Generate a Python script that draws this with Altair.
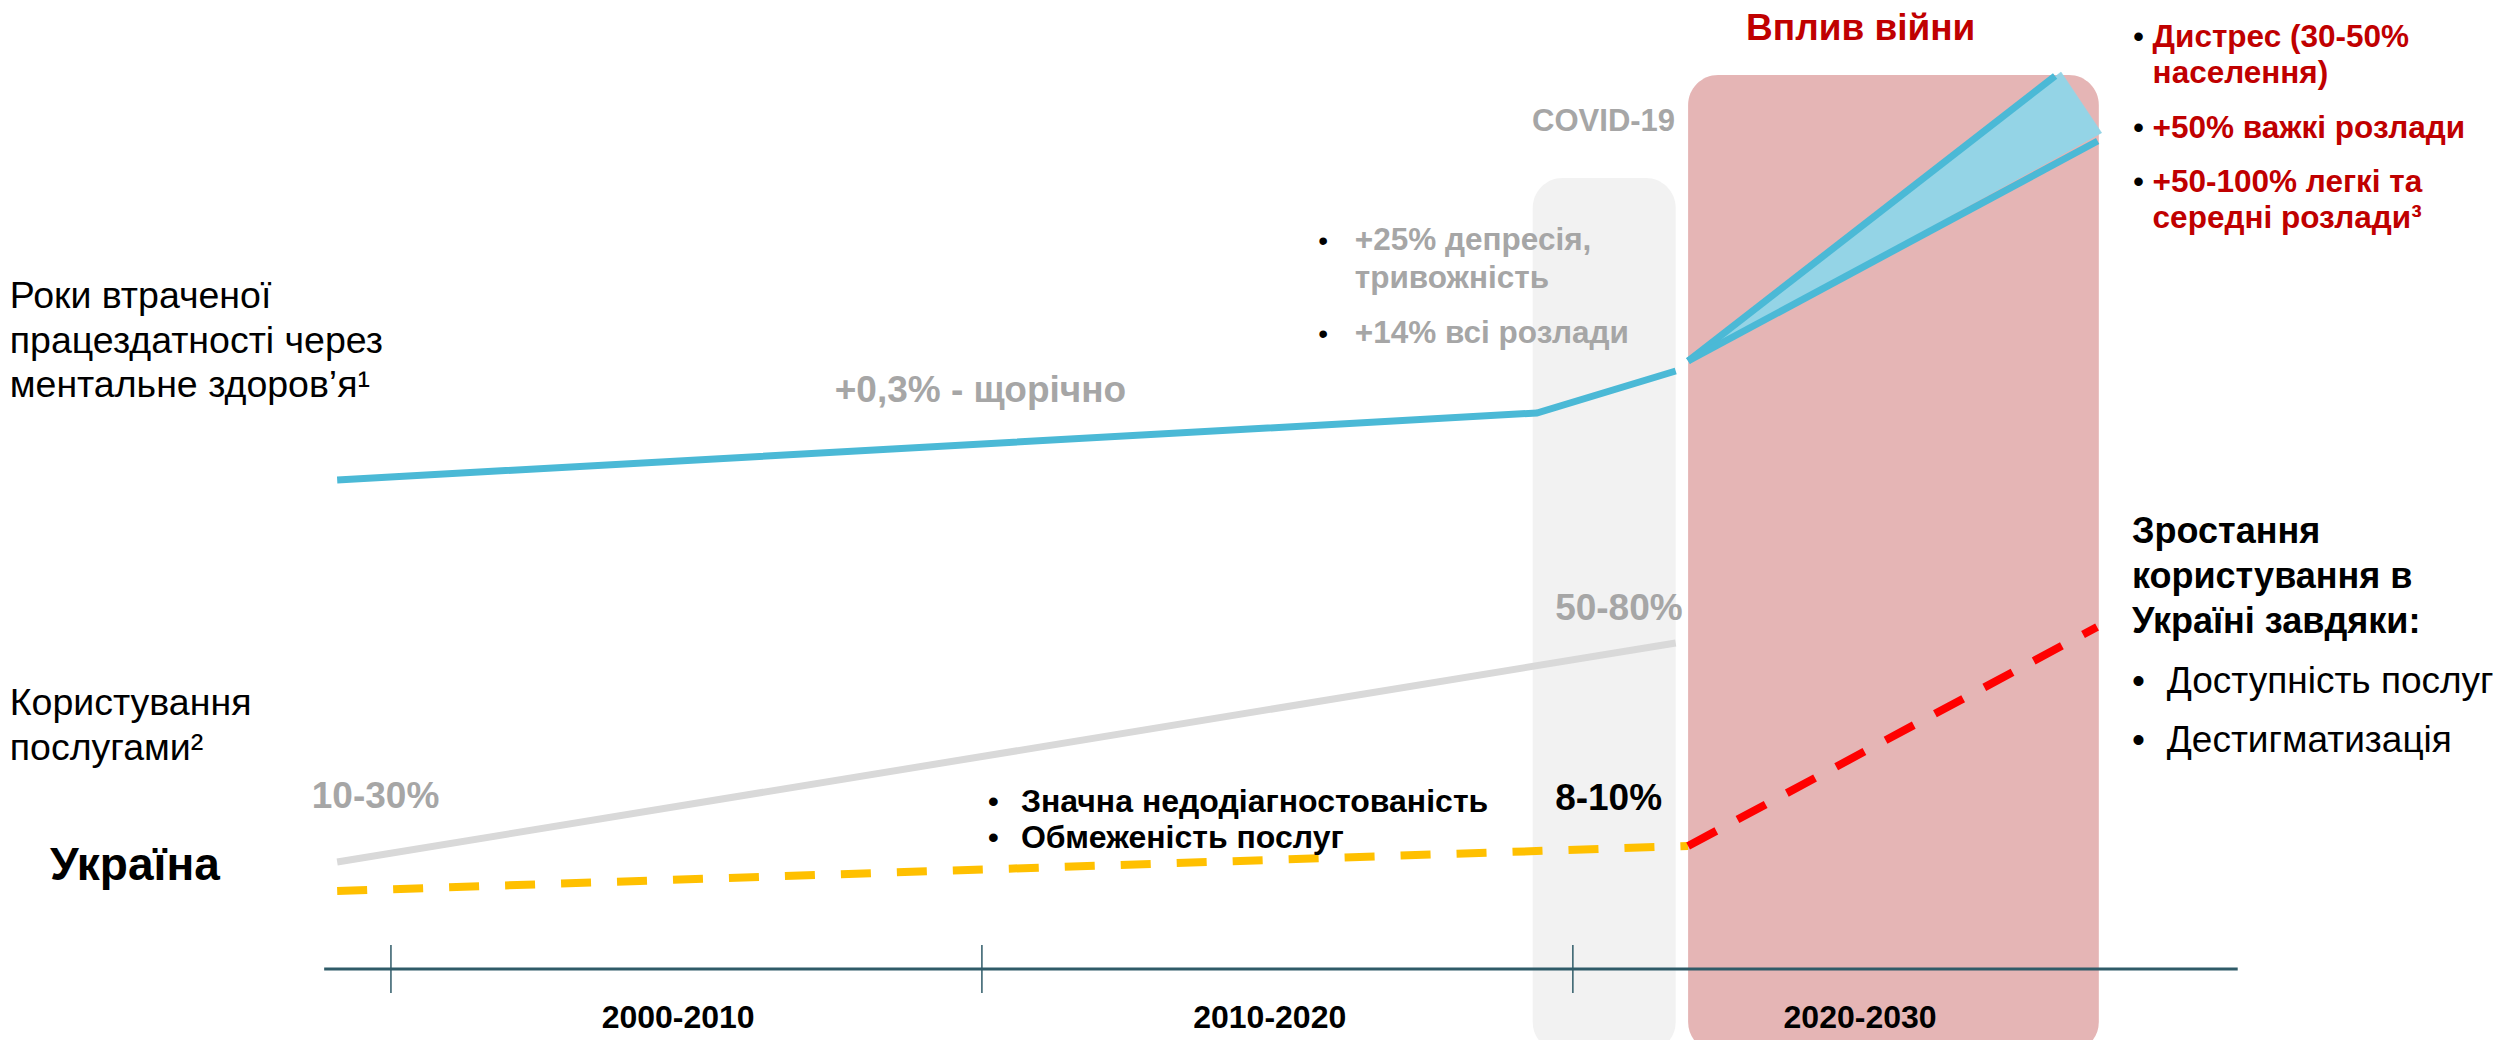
import altair as alt
import pandas as pd

FONT = "Liberation Sans"
X_DOMAIN = [1993.52, 2035.57]   # timeline (years) across the canvas
Y_DOMAIN = [0, 1032]            # abstract level units

# ---- shaded periods (COVID, war) ----
period_name = ["covid", "war"]
period_start = [2019.32, 2021.95]
period_end = [2021.74, 2028.90]
period_top = [862, 965]
period_bottom = [-12, -12]
period_color = ["#f2f2f2", "#e5b5b5"]

# ---- DALYs line (blue) ----
dalys_years = [1999.09, 2019.39, 2021.74]
dalys_level = [560, 627, 669]
fan_upper_years = [2021.95, 2028.16]
fan_upper_level = [679, 964]
fan_lower_years = [2021.95, 2028.88]
fan_lower_level = [679, 899]
fan_fill_years = [2021.95, 2028.26, 2028.95]
fan_fill_level = [679, 968, 907]

# ---- service use lines ----
benchmark_years = [1999.09, 2021.74]
benchmark_level = [178, 397]
ukraine_years = [1999.09, 2021.95]
ukraine_level = [149, 194]
war_years = [2021.95, 2028.87]
war_level = [194, 413]

# ---- timeline axis ----
axis_years = [1998.87, 2031.25]
axis_level = [71, 71]
tick_years = [2000, 2010, 2020]
tick_low = 47
tick_high = 95
decade_labels = ["2000-2010", "2010-2020", "2020-2030"]
decade_label_x = [2004.86, 2014.87, 2024.86]
decade_label_y = [12, 12, 12]

xs = alt.Scale(domain=X_DOMAIN, nice=False, zero=False)
ys = alt.Scale(domain=Y_DOMAIN, nice=False, zero=False)


def X(f="x"):
    return alt.X(f"{f}:Q", scale=xs, axis=None)


def Y(f="y"):
    return alt.Y(f"{f}:Q", scale=ys, axis=None)


def line(xv, yv, color, width, dash=None):
    df = pd.DataFrame({"x": xv, "y": yv})
    kw = dict(color=color, strokeWidth=width)
    if dash:
        kw["strokeDash"] = dash
    return alt.Chart(df).mark_line(**kw).encode(x=X(), y=Y())


def texts(xv, yv, labels, size, color, weight="normal", align="left"):
    df = pd.DataFrame({"x": xv, "y": yv, "t": labels})
    return alt.Chart(df).mark_text(
        font=FONT, fontSize=size, fontWeight=weight, color=color,
        align=align, baseline="alphabetic"
    ).encode(x=X(), y=Y(), text="t:N")


periods = pd.DataFrame({"name": period_name, "x": period_start, "x2": period_end,
                        "y": period_top, "y2": period_bottom, "c": period_color})
rects = alt.Chart(periods).mark_rect(cornerRadius=30).encode(
    x=X(), x2="x2:Q", y=Y(), y2="y2:Q",
    color=alt.Color("c:N", scale=None)
)

fan_df = pd.DataFrame({"x": fan_fill_years, "y": fan_fill_level, "o": [0, 1, 2]})
fan_fill = alt.Chart(fan_df).mark_line(
    fill="#94d4e6", stroke="#94d4e6", strokeWidth=0.5
).encode(x=X(), y=Y(), order="o:Q")

BLUE = "#4bb9d6"
layers = [
    rects,
    line(axis_years, axis_level, "#2f5b68", 3),
]
for t in tick_years:
    layers.append(line([t, t], [tick_low, tick_high], "#2f5b68", 1.5))

layers += [
    line(benchmark_years, benchmark_level, "#d9d9d9", 7),
    line(ukraine_years, ukraine_level, "#ffc000", 8, [30, 26]),
    line(war_years, war_level, "#ff0000", 8, [32, 24]),
    line(dalys_years, dalys_level, BLUE, 7),
    fan_fill,
    line(fan_upper_years, fan_upper_level, BLUE, 7),
    line(fan_lower_years, fan_lower_level, BLUE, 7),
    texts(decade_label_x, decade_label_y, decade_labels, 32, "#000000", "bold", "center"),
    # left labels
    texts([1993.55] * 5, [732, 687, 643, 325, 280],
          ["Роки втраченої", "працездатності через", "ментальне здоров’я¹",
           "Користування", "послугами²"], 37.5, "#000000"),
    texts([1994.23], [160], ["Україна"], 46, "#000000", "bold"),
    # gray annotations
    texts([2007.51, 1998.66, 2019.70], [638, 232, 420],
          ["+0,3% - щорічно", "10-30%", "50-80%"], 37, "#a6a6a6", "bold"),
    texts([2016.31] * 3, [790, 752, 697],
          ["+25% депресія,", "тривожність", "+14% всі розлади"], 31.5, "#a6a6a6", "bold"),
    texts([2015.69] * 2, [790, 697], ["•", "•"], 28, "#000000"),
    texts([2020.52], [909], ["COVID-19"], 31, "#a6a6a6", "bold", "center"),
    # war
    texts([2024.87], [1000], ["Вплив війни"], 37, "#c00000", "bold", "center"),
    texts([2029.81] * 5, [993, 957, 902, 848, 812],
          ["Дистрес (30-50%", "населення)", "+50% важкі розлади",
           "+50-100% легкі та", "середні розлади³"], 31.5, "#c00000", "bold"),
    texts([2029.48] * 3, [993, 902, 848], ["•", "•", "•"], 31.5, "#000000"),
    # Ukraine service use
    texts([2019.70], [230], ["8-10%"], 37, "#000000", "bold"),
    texts([2010.66] * 2, [228, 192],
          ["Значна недодіагностованість", "Обмеженість послуг"], 32, "#000000", "bold"),
    texts([2010.10] * 2, [228, 192], ["•", "•"], 32, "#000000"),
    texts([2029.46] * 3, [497, 452, 407],
          ["Зростання", "користування в", "Україні завдяки:"], 36, "#000000", "bold"),
    texts([2029.46] * 2, [347, 288], ["•", "•"], 37, "#000000"),
    texts([2030.05] * 2, [347, 288], ["Доступність послуг", "Дестигматизація"], 37, "#000000"),
]

chart = alt.layer(*layers).properties(
    width=2485, height=1032, autosize=alt.AutoSizeParams(type="none"), padding=0
).configure_view(stroke=None)

chart.save("out.html", embed_options={"renderer": "svg", "actions": False})
